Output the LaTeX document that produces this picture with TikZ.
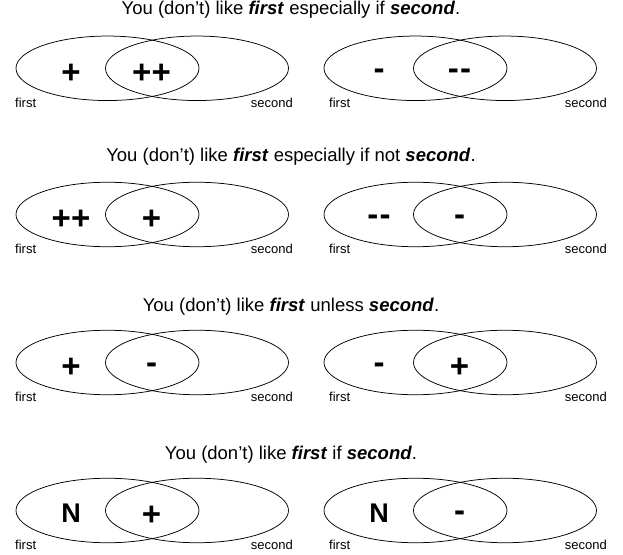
\documentclass[tikz,border=0pt]{standalone}
\usepackage{fontspec}
\setmainfont{Liberation Sans}
\usetikzlibrary{shapes.geometric}

\tikzset{
  venn/.style={ellipse,draw,line width=0.75pt,minimum width=183pt,minimum height=64.5pt,inner sep=0pt},
  sign/.style={anchor=base,inner sep=0pt,font=\fontsize{33}{33}\selectfont\bfseries},
  tag/.style={inner sep=0pt,font=\fontsize{13}{13}\selectfont},
  caption/.style={anchor=base,inner sep=0pt,font=\fontsize{18.5}{18.5}\selectfont}
}
\newcommand{\fw}{\textbf{\textit{first}}}
\newcommand{\sw}{\textbf{\textit{second}}}
% signs, set on one baseline
\newcommand{\psign}{\raisebox{-2pt}{+}}
\newcommand{\msign}{\raisebox{2.2pt}{-}}
\newcommand{\nsign}{\raisebox{1pt}{\fontsize{27}{27}\selectfont N}}

\begin{document}
\begin{tikzpicture}[x=1pt,y=1pt]
  \useasboundingbox (0,0) rectangle (623,554);
  % one row per sentence: centre height, title baseline, words, signs left / right
  \foreach \r/\yc/\yt/\txt/\pa/\pb/\na/\nb in {
    1/485.7/539/{especially if}/\psign/\psign\psign/\msign/\msign\kern1.5pt\msign,
    2/339.5/392/{especially if not}/\psign\psign/\psign/\msign\kern1.5pt\msign/\msign,
    3/191.5/242/{unless}/\psign/\msign/\msign/\psign,
    4/43.5/95/{if}/\nsign/\psign/\nsign/\msign}
  {
    \node[caption] (t\r) at (291,\yt) {You (don't) like \fw\ \txt\ \sw.};
    %% the two pairs of ellipses
    \foreach \p/\dx/\lx/\sa/\sb in {L/0/0/\pa/\pb, R/308/314/\na/\nb}
    {
      \node[venn] (f\p\r) at (107.5+\dx,\yc) {};
      \node[venn] (s\p\r) at (197+\dx,\yc) {};
      \node[sign] (a\p\r) at (71+\dx,\yc-13) {\sa};
      \node[sign] (b\p\r) at (151.5+\dx,\yc-13) {\sb};
      \node[tag,anchor=base west] (lf\p\r) at (15+\lx,\yc-39) {first};
      \node[tag,anchor=base east] (ls\p\r) at (293+\lx,\yc-39) {second};
    }
  }
\end{tikzpicture}
\end{document}
